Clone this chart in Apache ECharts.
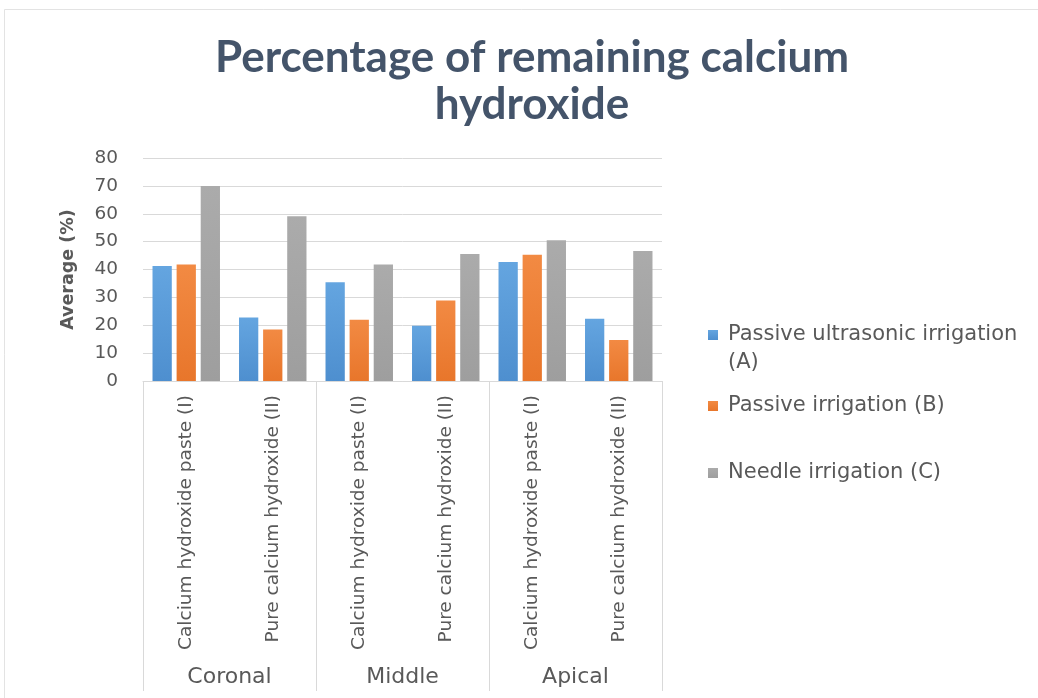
<!DOCTYPE html>
<html>
<head>
<meta charset="utf-8">
<script src="https://cdn.jsdelivr.net/npm/echarts@6/dist/echarts.min.js"></script>
<style>
html,body{margin:0;padding:0;background:#fff;}
#chart{width:1038px;height:698px;}
</style>
</head>
<body>
<div id="chart"></div>
<script>
const titleText = 'Percentage of remaining calcium\nhydroxide';
const groups = ['Coronal', 'Middle', 'Apical'];
const categories = [
  'Calcium hydroxide paste (I)', 'Pure calcium hydroxide (II)',
  'Calcium hydroxide paste (I)', 'Pure calcium hydroxide (II)',
  'Calcium hydroxide paste (I)', 'Pure calcium hydroxide (II)'
];
const seriesNames = ['Passive ultrasonic irrigation (A)', 'Passive irrigation (B)', 'Needle irrigation (C)'];
const valuesA = [41.3, 22.8, 35.4, 19.8, 42.7, 22.3];
const valuesB = [41.8, 18.5, 22.0, 28.9, 45.3, 14.7];
const valuesC = [70.0, 59.1, 41.8, 45.6, 50.5, 46.6];
const yTicks = [0, 10, 20, 30, 40, 50, 60, 70, 80];

const FONT = 'DejaVu Sans';
const TXT = '#595959';
const GRID = '#d9d9d9';

function grad(top, bottom) {
  return new echarts.graphic.LinearGradient(0, 0, 0, 1, [
    {offset: 0, color: top}, {offset: 1, color: bottom}
  ]);
}
const colors = [grad('#64a5e0', '#4e8fcf'), grad('#f28a43', '#e8762b'), grad('#ababab', '#9e9e9e')];
const legendColors = ['#5b9bd5', '#ed7d31', '#a5a5a5'];
const allValues = [valuesA, valuesB, valuesC];

const chart = echarts.init(document.getElementById('chart'), null, {renderer: 'canvas'});
const L = 28;
const firstLineY = [335, 406, 473];
const option = {
  backgroundColor: '#ffffff',
  animation: false,
  title: {
    text: titleText,
    left: 532,
    textAlign: 'center',
    top: 34,
    padding: 0,
    textStyle: {
      fontFamily: 'Lato', fontWeight: 'bold', fontSize: 44, color: '#44546a', lineHeight: 47
    }
  },
  graphic: [{
    type: 'rect', shape: {x: 4.5, y: 9.5, width: 1100, height: 1000},
    style: {fill: 'none', stroke: '#e3e3e3', lineWidth: 1}, silent: true, z: -10
  }],
  legend: seriesNames.map((n, i) => ({
    data: [n],
    orient: 'vertical',
    left: 708,
    top: i === 0 ? firstLineY[i] - 1.5 * L : firstLineY[i] - L / 2,
    padding: 0,
    icon: 'rect',
    itemWidth: 10,
    itemHeight: 10,
    selectedMode: false,
    formatter: function (name) {
      return name === seriesNames[0] ? '\nPassive ultrasonic irrigation\n(A)' : name;
    },
    textStyle: {
      fontFamily: FONT, fontSize: 21, color: TXT, lineHeight: L,
      padding: [0, 0, 0, 5]
    }
  })),
  grid: {left: 143, right: 376, top: 158, bottom: 317, containLabel: false},
  xAxis: [{
    type: 'category',
    data: categories,
    position: 'bottom',
    axisLine: {show: true, lineStyle: {color: GRID, width: 1}},
    axisTick: {show: false},
    axisLabel: {
      interval: 0, rotate: 90, margin: 14,
      fontFamily: FONT, fontSize: 18.5, color: TXT
    }
  }, {
    type: 'category',
    data: groups,
    position: 'bottom',
    offset: 0,
    axisLine: {show: false},
    axisTick: {show: true, interval: 0, length: 310, lineStyle: {color: GRID, width: 1}},
    axisLabel: {interval: 0, margin: 285, fontFamily: FONT, fontSize: 22, color: TXT},
    splitLine: {show: false}
  }],
  yAxis: {
    type: 'value',
    min: yTicks[0],
    max: yTicks[yTicks.length - 1],
    interval: yTicks[1] - yTicks[0],
    name: 'Average (%)',
    nameLocation: 'middle',
    nameGap: 66,
    nameRotate: 90,
    nameTextStyle: {fontFamily: FONT, fontWeight: 'bold', fontSize: 17.5, color: TXT},
    axisLine: {show: false},
    axisTick: {show: false},
    axisLabel: {margin: 25, fontFamily: FONT, fontSize: 18.5, color: TXT},
    splitLine: {show: true, lineStyle: {color: GRID, width: 1}}
  },
  series: seriesNames.map((n, i) => ({
    name: n,
    type: 'bar',
    data: allValues[i],
    itemStyle: {color: colors[i]},
    barGap: '25%',
    barCategoryGap: '22%',
    emphasis: {disabled: true}
  })),
  color: legendColors
};
chart.setOption(option);
</script>
</body>
</html>
